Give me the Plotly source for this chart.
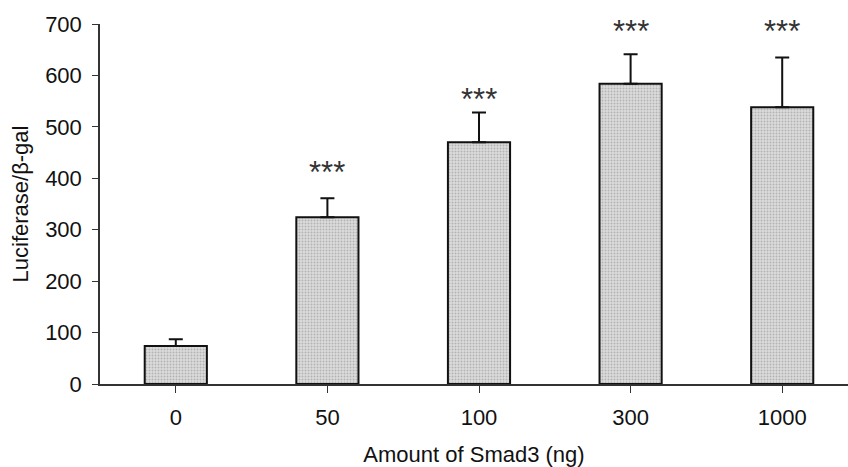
import plotly.graph_objects as go

categories = ["0", "50", "100", "300", "1000"]
values = [74, 324, 470, 584, 538]
errors = [13, 37, 58, 57, 97]
sig_labels = ["", "***", "***", "***", "***"]
sig_y = [None, 412, 553, 686, 686]

fig = go.Figure()
fig.add_trace(go.Bar(
    x=list(range(len(categories))),
    y=values,
    width=0.41,
    marker=dict(
        color="#d4d4d4",
        line=dict(color="#111111", width=2),
        pattern=dict(shape=".", fgcolor="#8a8a8a", bgcolor="#dcdcdc", size=3, solidity=0.35),
    ),
    error_y=dict(type="data", array=errors, arrayminus=[0] * len(errors),
                 color="#111111", thickness=2, width=7),
    showlegend=False,
))

for i, (lab, yv) in enumerate(zip(sig_labels, sig_y)):
    if lab:
        fig.add_annotation(x=i, y=yv, text=lab, showarrow=False,
                           xanchor="center", yanchor="middle",
                           font=dict(family="Liberation Sans, Arial", size=31, color="#333"))

fig.update_layout(
    width=848, height=467,
    margin=dict(l=100, r=0, t=24, b=83),
    paper_bgcolor="white", plot_bgcolor="white",
    font=dict(family="Liberation Sans, Arial", size=22, color="#111"),
    bargap=0.59,
)
fig.update_xaxes(
    range=[-0.5, 4.434],
    tickmode="array", tickvals=list(range(len(categories))), ticktext=categories,
    tickson="boundaries", ticks="outside", ticklen=7, tickcolor="#333", tickwidth=1,
    showline=True, linecolor="#333", linewidth=1.5,
    showgrid=False, zeroline=False,
    ticklabelstandoff=6,
    title=dict(text="Amount of Smad3 (ng)", standoff=20, font=dict(size=22)),
)
fig.update_yaxes(
    range=[0, 700], tickvals=[0, 100, 200, 300, 400, 500, 600, 700],
    ticks="outside", ticklen=6, tickcolor="#333", tickwidth=1,
    showline=True, linecolor="#333", linewidth=1.5,
    showgrid=False, zeroline=False,
    ticklabelstandoff=6,
    title=dict(text="Luciferase/β-gal", standoff=10, font=dict(size=22)),
)

fig.write_html("out.html")
